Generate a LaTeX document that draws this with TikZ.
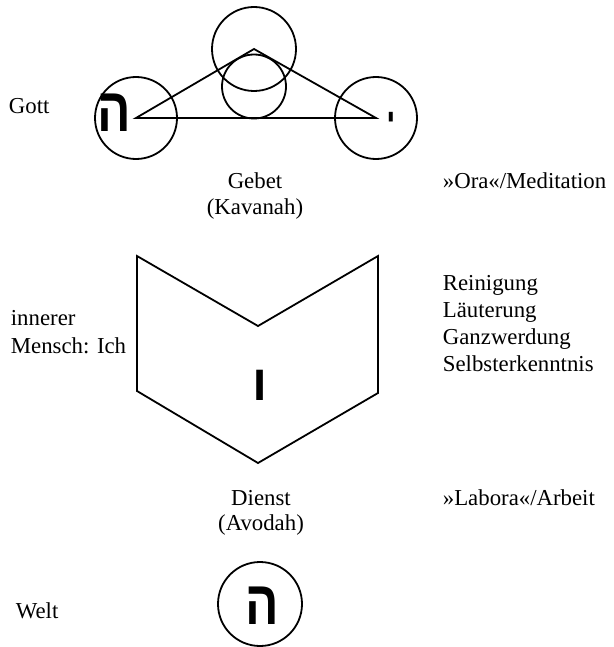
\documentclass[tikz,border=0pt]{standalone}
\usepackage{fontspec}
\setmainfont{Liberation Serif}
\newfontfamily\hebr[Script=Hebrew]{Liberation Sans}
\TeXXeTstate=1
\usetikzlibrary{positioning}
\newcommand{\HebHe}{\scalebox{0.8}[1]{\beginR ה\endR}}
\newcommand{\HebYod}{\beginR י\endR}
\newcommand{\HebVav}{\beginR ו\endR}

\tikzset{
  ring/.style={draw, circle, inner sep=0pt, line width=0.9pt},
  txt/.style={inner sep=0pt, font=\fontsize{11.4pt}{13.6pt}\selectfont},
  letter/.style={inner sep=0pt, font=\hebr\bfseries\fontsize{31pt}{31pt}\selectfont},
  midletter/.style={inner sep=0pt, font=\hebr\bfseries\fontsize{25pt}{25pt}\selectfont},
  smallletter/.style={inner sep=0pt, font=\hebr\bfseries\fontsize{15pt}{15pt}\selectfont},
}

\begin{document}
\begin{tikzpicture}[x=0.5pt, y=-0.5pt, line width=0.9pt]
  \useasboundingbox (0,0) rectangle (614,647);
  % Gott: triangle of circles
  \node[ring, minimum size=41pt] (lcirc) at (136,118) {};
  \node[ring, minimum size=41pt] (rcirc) at (376,118) {};
  \node[ring, minimum size=42pt] (tcirc) at (254,49) {};
  \node[ring, minimum size=32pt] (mcirc) at (254,86.5) {};
  \draw (lcirc.center) -- (tcirc.center) -- (rcirc.center) -- cycle;
  \node[letter, anchor=base] (heTop) at (114,132) {\HebHe};
  \node[smallletter, anchor=base] (yod) at (391,131) {\HebYod};

  % innerer Mensch: the folded shape
  \coordinate (hexTL) at (137,256);
  \coordinate (hexN)  at (258,326);
  \coordinate (hexTR) at (378,256);
  \coordinate (hexBR) at (378,393);
  \coordinate (hexB)  at (258,463);
  \coordinate (hexBL) at (137,391);
  \draw (hexTL) -- (hexN) -- (hexTR) -- (hexBR) -- (hexB) -- (hexBL) -- cycle;
  \node[midletter, anchor=base] (vav) at (260,400) {\HebVav};

  % Welt
  \node[ring, minimum size=42pt] (bcirc) at (260,604) {};
  \node[letter, anchor=base] (heBot) at (262,624) {\HebHe};

  % left column
  \node[txt, anchor=base west] (gott)   at (8,113)  {Gott};
  \node[txt, anchor=base west] (inner)  at (10,325) {innerer};
  \node[txt, anchor=base west] (mensch) at (10,353) {Mensch: Ich};
  \node[txt, anchor=base west] (welt)   at (15,618) {Welt};

  % middle column
  \node[txt, anchor=base] (gebet)  at (255,188) {Gebet};
  \node[txt, anchor=base] (kav)    at (255,214) {(Kavanah)};
  \node[txt, anchor=base] (dienst) at (261,505) {Dienst};
  \node[txt, anchor=base] (avodah) at (261,530) {(Avodah)};

  % right column
  \node[txt, anchor=base west] (ora)     at (442,188) {»Ora«/Meditation};
  \node[txt, anchor=base west] (rein)    at (442,290) {Reinigung};
  \node[txt, anchor=base west] (laeut)   at (442,317) {Läuterung};
  \node[txt, anchor=base west] (ganz)    at (442,344) {Ganzwerdung};
  \node[txt, anchor=base west] (selbst)  at (442,371) {Selbsterkenntnis};
  \node[txt, anchor=base west] (labora)  at (442,505) {»Labora«/Arbeit};
\end{tikzpicture}
\end{document}
